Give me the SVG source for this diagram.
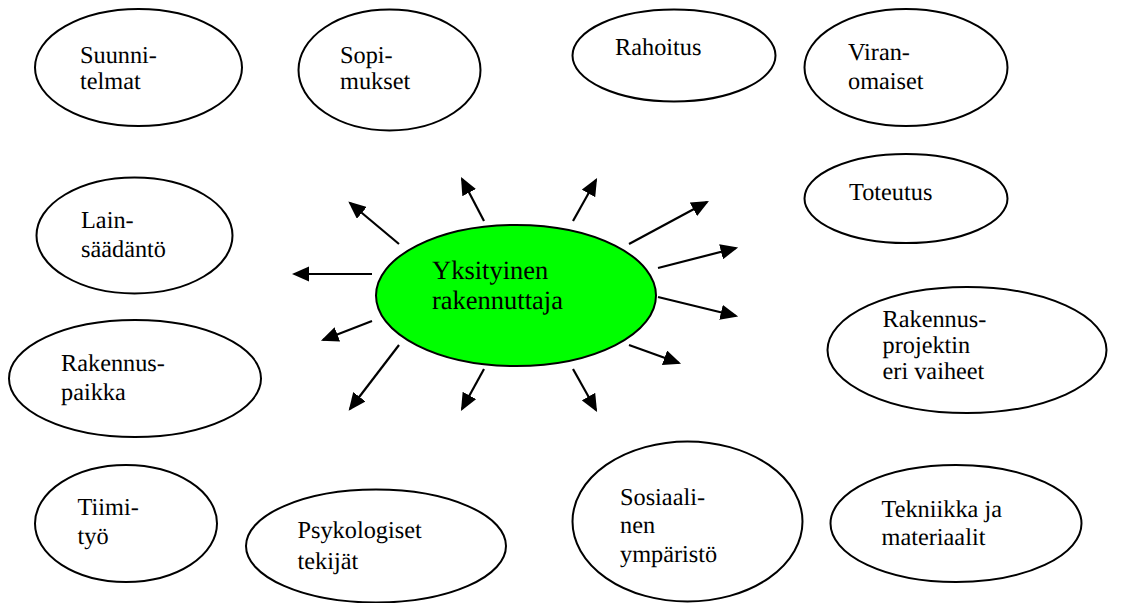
<svg xmlns="http://www.w3.org/2000/svg" width="1132" height="603" viewBox="0 0 1132 603" font-family="'Liberation Serif', 'Times New Roman', serif">
  <style>
    .node { fill: #ffffff; stroke: #000000; stroke-width: 2; }
    .hub { fill: #00ff00; stroke: #000000; stroke-width: 2; }
    text { font-family: 'Liberation Serif', 'Times New Roman', serif; fill: #000000; text-rendering: geometricPrecision; }
    .arrow { stroke: #000000; stroke-width: 2.2; fill: none; marker-end: url(#head); }
  </style>
  <defs>
    <marker id="head" viewBox="0 0 8 7" refX="7" refY="3.5" markerWidth="8" markerHeight="7" orient="auto" markerUnits="strokeWidth">
      <path d="M0,0 L8,3.5 L0,7 z" fill="#000000"/>
    </marker>
  </defs>
  <rect width="1132" height="603" fill="#ffffff"/>

  <!-- spokes radiating from the central node -->
  <g id="connectors">
    <line class="arrow" x1="399" y1="244" x2="350" y2="203"/>
    <line class="arrow" x1="484" y1="221" x2="462" y2="179"/>
    <line class="arrow" x1="573" y1="221" x2="596" y2="180"/>
    <line class="arrow" x1="629" y1="244" x2="707" y2="202"/>
    <line class="arrow" x1="658" y1="268" x2="736" y2="248"/>
    <line class="arrow" x1="658" y1="297" x2="736" y2="316"/>
    <line class="arrow" x1="629" y1="345" x2="679" y2="363"/>
    <line class="arrow" x1="573" y1="369" x2="596" y2="410"/>
    <line class="arrow" x1="484" y1="369" x2="462" y2="409"/>
    <line class="arrow" x1="399" y1="345" x2="350" y2="409"/>
    <line class="arrow" x1="372" y1="321" x2="323" y2="340"/>
    <line class="arrow" x1="372" y1="274" x2="294" y2="274"/>
  </g>

  <g id="hub" font-size="26.5">
    <ellipse class="hub" cx="516" cy="295.5" rx="140" ry="70.5"/>
    <text x="432" y="279">Yksityinen</text>
    <text x="432" y="309">rakennuttaja</text>
  </g>

  <g id="nodes" font-size="24.3">
    <g id="suunnitelmat">
      <ellipse class="node" cx="138.5" cy="67.5" rx="103.5" ry="58.5"/>
      <text x="80" y="63">Suunni-</text>
      <text x="80" y="89">telmat</text>
    </g>

    <g id="sopimukset">
      <ellipse class="node" cx="389.5" cy="70" rx="91" ry="60.5"/>
      <text x="340" y="63">Sopi-</text>
      <text x="340" y="89">mukset</text>
    </g>

    <g id="rahoitus">
      <ellipse class="node" cx="674" cy="55.5" rx="101.5" ry="46"/>
      <text x="615" y="55">Rahoitus</text>
    </g>

    <g id="viranomaiset">
      <ellipse class="node" cx="906" cy="67.5" rx="101.5" ry="58.5"/>
      <text x="848" y="60">Viran-</text>
      <text x="848" y="89">omaiset</text>
    </g>

    <g id="toteutus">
      <ellipse class="node" cx="906" cy="198.5" rx="101.5" ry="44.5"/>
      <text x="849" y="200">Toteutus</text>
    </g>

    <g id="lainsaadanto">
      <ellipse class="node" cx="134.5" cy="235.5" rx="98" ry="58"/>
      <text x="81" y="228">Lain-</text>
      <text x="81" y="257">säädäntö</text>
    </g>

    <g id="rakennuspaikka">
      <ellipse class="node" cx="135" cy="378.5" rx="126" ry="58.5"/>
      <text x="61" y="371">Rakennus-</text>
      <text x="61" y="400">paikka</text>
    </g>

    <g id="rakennusprojektin-vaiheet">
      <ellipse class="node" cx="967" cy="350" rx="139.5" ry="63"/>
      <text x="882.5" y="326.5">Rakennus-</text>
      <text x="882.5" y="353">projektin</text>
      <text x="882.5" y="379">eri vaiheet</text>
    </g>

    <g id="tiimityo">
      <ellipse class="node" cx="126" cy="523.5" rx="91" ry="58.5"/>
      <text x="77.5" y="515">Tiimi-</text>
      <text x="77.5" y="544">työ</text>
    </g>

    <g id="psykologiset-tekijat">
      <ellipse class="node" cx="376" cy="546" rx="130" ry="56.5"/>
      <text x="297.5" y="538">Psykologiset</text>
      <text x="297.5" y="569">tekijät</text>
    </g>

    <g id="sosiaalinen-ymparisto">
      <ellipse class="node" cx="687.5" cy="521.5" rx="115" ry="80"/>
      <text x="620" y="505">Sosiaali-</text>
      <text x="620" y="533">nen</text>
      <text x="620" y="561.5">ympäristö</text>
    </g>

    <g id="tekniikka-materiaalit">
      <ellipse class="node" cx="956" cy="523.5" rx="125.5" ry="58.5"/>
      <text x="881.5" y="516.5">Tekniikka ja</text>
      <text x="881.5" y="545">materiaalit</text>
    </g>
  </g>
</svg>
